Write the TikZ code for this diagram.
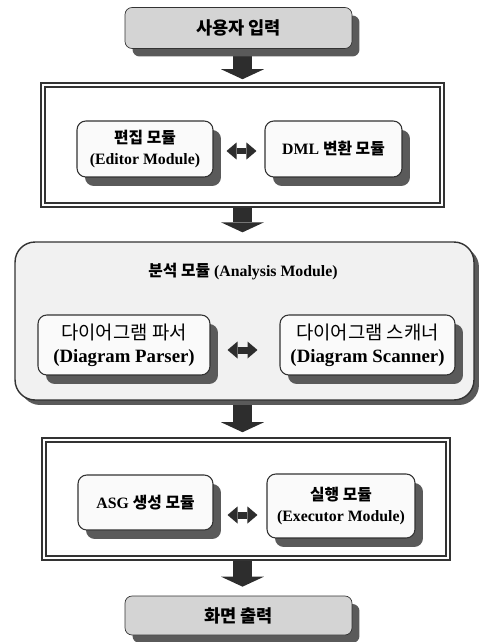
\documentclass[tikz,border=0pt]{standalone}
\usepackage{fontspec}
\setmainfont{Liberation Serif}
\newfontfamily\kr{Noto Sans CJK KR}
\usetikzlibrary{positioning,arrows.meta,shadows,backgrounds}
\definecolor{shadegray}{RGB}{90,90,90}
\definecolor{iogray}{RGB}{212,212,212}
\definecolor{panelgray}{RGB}{241,241,241}
\definecolor{modwhite}{RGB}{250,250,250}
\definecolor{arrowgray}{RGB}{45,45,45}
\tikzset{
  iobox/.style = {rectangle, draw=black!80, rounded corners=4pt,
                  fill=iogray, minimum width=4.54cm, minimum height=0.82cm,
                  font=\kr\bfseries\fontsize{10}{12}\selectfont,
                  drop shadow={shadow xshift=0.15cm, shadow yshift=-0.16cm,
                               fill=shadegray, opacity=1}},
  frame/.style = {rectangle, draw=black!80, double=white,
                  double distance=1.3pt, line width=0.9pt, fill=white},
  panel/.style = {rectangle, draw=black!80, rounded corners=0.4cm,
                  line width=0.8pt, fill=panelgray,
                  drop shadow={shadow xshift=0.1cm, shadow yshift=-0.1cm,
                               fill=shadegray, opacity=1}},
  modbox/.style = {rectangle, draw=black!80, rounded corners=5pt,
                   line width=0.6pt, fill=modwhite, align=center,
                   font=\bfseries\fontsize{9}{11.5}\selectfont,
                   drop shadow={shadow xshift=0.16cm, shadow yshift=-0.18cm,
                                fill=shadegray, opacity=1}},
  bigmod/.style = {modbox, font=\bfseries\fontsize{10.7}{13}\selectfont},
  blockarr/.style = {draw=arrowgray, line width=0.38cm,
                     arrows={-Triangle[width=0.86cm,length=0.2cm,line width=0pt]}},
  duplex/.style = {draw=arrowgray, line width=0.14cm,
                   arrows={Triangle[width=0.34cm,length=0.2cm,line width=0pt]-Triangle[width=0.34cm,length=0.2cm,line width=0pt]}}
}

\begin{document}
\begin{tikzpicture}[x=0.02cm,y=-0.02cm]
    \useasboundingbox (0,0) rectangle (479,642);
    \coordinate (axis) at (242.5,0);
    % input and output
    \node[iobox] (input) at (238.5,28) {사용자 입력};
    \node[iobox,minimum height=0.78cm] (output) at (238.5,615.5) {화면 출력};
    % editing stage
    \node[frame,minimum width=7.98cm,minimum height=2.4cm] (editfr) at (242.5,145) {};
    \node[modbox,minimum width=2.72cm,minimum height=1.12cm] (editor) at (145,149)
        {{\kr 편집 모듈}\\(Editor Module)};
    \node[modbox,minimum width=2.74cm,minimum height=1.12cm] (dml) at (333.5,149)
        {DML {\kr 변환 모듈}};
    \draw[duplex,shorten <=0.26cm,shorten >=0.16cm] ([yshift=-0.04cm]editor.east) -- ([yshift=-0.04cm]editor.east -| dml.west);
    % analysis stage
    \node[panel,minimum width=9.18cm,minimum height=3.16cm] (analysis) at (244.5,321) {};
    \node[font=\bfseries\fontsize{9}{11}\selectfont] (atitle) at (243,272)
        {{\kr 분석 모듈} (Analysis Module)};
    \node[bigmod,minimum width=3.44cm,minimum height=1.2cm] (parser) at (124,345)
        {{\mdseries\kr 다이어그램 파서}\\(Diagram Parser)};
    \node[bigmod,minimum width=3.5cm,minimum height=1.2cm] (scanner) at (367.5,345)
        {{\mdseries\kr 다이어그램 스캐너}\\(Diagram Scanner)};
    \draw[duplex,shorten <=0.34cm,shorten >=0.44cm] ([yshift=-0.1cm]parser.east) -- ([yshift=-0.1cm]parser.east -| scanner.west);
    % execution stage
    \node[frame,minimum width=8.08cm,minimum height=2.36cm] (execfr) at (246,499) {};
    \node[modbox,minimum width=2.7cm,minimum height=1.1cm] (asg) at (145.5,502.5)
        {ASG {\kr 생성 모듈}};
    \node[modbox,minimum width=2.96cm,minimum height=1.28cm] (exec) at (341,506)
        {{\kr 실행 모듈}\\(Executor Module)};
    \draw[duplex,shorten <=0.28cm,shorten >=0.18cm] ([yshift=-0.25cm]asg.east) -- ([yshift=-0.25cm]asg.east -| exec.west);
    % flow between stages
    \begin{pgfonlayer}{background}
    \draw[blockarr,shorten >=0.1cm] (input.south -| axis) -- (editfr.north -| axis);
    \draw[blockarr,shorten >=0.18cm] (editfr.south -| axis) -- (analysis.north -| axis);
    \draw[blockarr,shorten >=0.14cm] (analysis.south -| axis) -- (execfr.north -| axis);
    \draw[blockarr,shorten >=0.18cm] (execfr.south -| axis) -- (output.north -| axis);
    \end{pgfonlayer}
\end{tikzpicture}
\end{document}
